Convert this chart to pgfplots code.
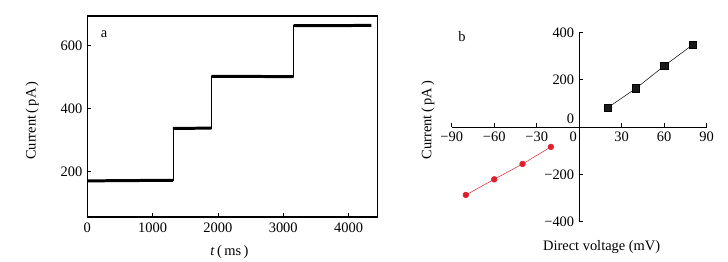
\documentclass[border=0pt]{standalone}
\usepackage{pgfplots}
\pgfplotsset{compat=1.18}
\usepackage{fontspec}
\setmainfont{Liberation Serif}
\definecolor{dotred}{RGB}{222,32,44}
\begin{document}
\fontsize{14.5}{16}\selectfont
\begin{tikzpicture}
\path[use as bounding box] (0,0) rectangle (728bp,262bp);
% panel a: current trace
\begin{axis}[
  at={(87.3bp,45bp)}, anchor=south west,
  scale only axis, width=290bp, height=201bp,
  xmin=0, xmax=4440, ymin=55, ymax=695,
  xtick={0,1000,2000,3000,4000},
  ytick={200,400,600},
  tick align=inside, tick pos=left,
  major tick length=4pt,
  axis line style={line width=1.3pt},
  tick style={line width=0.8pt, black},
  /pgf/number format/assume math mode=true,
  /pgf/number format/1000 sep={},
  ticklabel style={font=\fontsize{14.5}{16}\selectfont},
  xticklabel style={yshift=-1pt},
  clip=false,
]
\addplot[black, line width=0.6pt] coordinates {
  (0,172) (1310,172) (1310,338) (1900,338) (1900,503) (3160,503) (3160,665) (4350,665)
};
\addplot[black, line width=3pt, unbounded coords=jump] coordinates {
  (0,170) (1310,172) (nan,nan)
  (1310,337) (1900,338) (nan,nan)
  (1900,503) (3160,502) (nan,nan)
  (3160,664) (4350,665)
};
\node[anchor=center] at (axis description cs:0.058,0.91) {a};
\node[rotate=90] at (axis description cs:-0.19,0.48) {Current\,(\,pA\,)};
\node at (axis description cs:0.49,-0.175) {\textit{t}\,(\,ms\,)};
\end{axis}
% panel b: I-V
\begin{axis}[
  at={(451.7bp,40.3bp)}, anchor=south west,
  scale only axis, width=255bp, height=189.4bp,
  axis lines=middle, axis line style={-, line width=0.8pt},
  xmin=-90, xmax=90, ymin=-400, ymax=400,
  xtick={-90,-60,-30,30,60,90},
  xticklabels={−90,−60,−30,30,60,90},
  extra x ticks={0}, extra x tick labels={0},
  extra x tick style={xticklabel style={xshift=-6pt}, major tick length=0pt},
  ytick={-400,-200,200,400},
  yticklabels={−400,−200,200,400},
  extra y ticks={0}, extra y tick labels={0},
  extra y tick style={yticklabel style={yshift=8pt}, major tick length=0pt},
  hide obscured x ticks=false, hide obscured y ticks=false,
  tick align=inside,
  major tick length=4pt,
  tick style={line width=0.8pt, black},
  ticklabel style={font=\fontsize{14.5}{16}\selectfont},
  clip=false,
]
\addplot[black, line width=0.5pt, mark=square*, mark size=3.8pt, mark options={fill=black!90}] coordinates {
  (20,81) (40,163) (60,258) (80,347)
};
\addplot[dotred, line width=0.5pt, mark=*, mark size=2.9pt, mark options={fill=dotred}] coordinates {
  (-80,-287) (-60,-221) (-40,-156) (-20,-84)
};
\node at (axis description cs:0.04,0.975) {b};
\node[rotate=90] at (axis description cs:-0.093,0.537) {Current\,(\,pA\,)};
\node at (axis description cs:0.588,-0.134) {Direct voltage (mV)};
\end{axis}
\end{tikzpicture}
\end{document}
